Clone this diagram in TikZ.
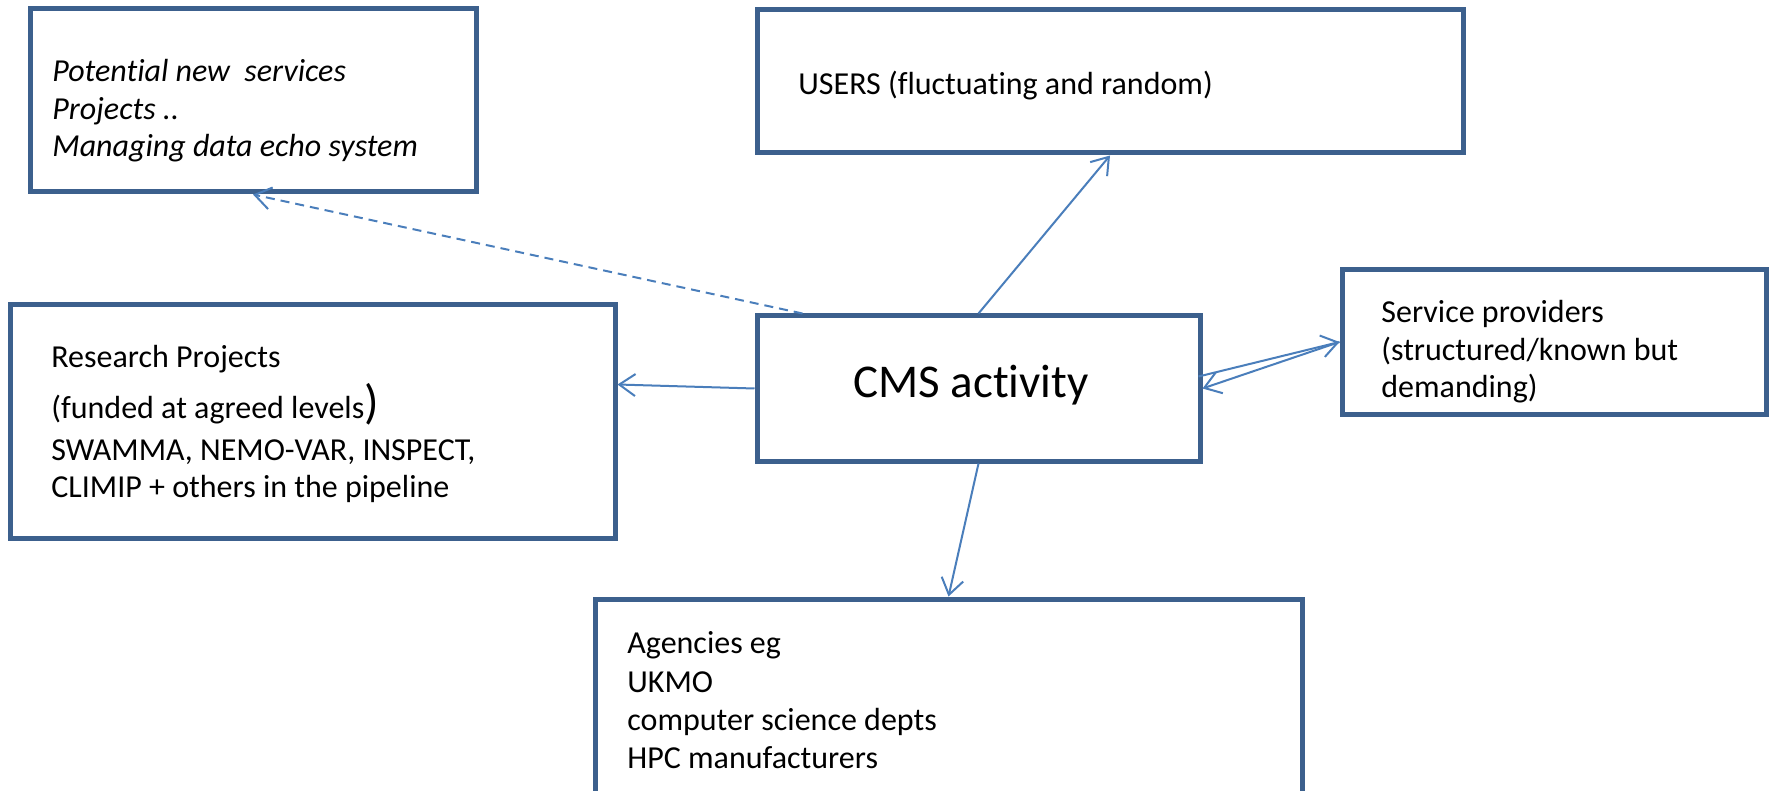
\documentclass[tikz,border=0pt]{standalone}
\usepackage{fontspec}
\setmainfont[Ligatures=NoCommon]{Carlito}
\usetikzlibrary{arrows.meta,calc}
\definecolor{boxblue}{RGB}{60,96,141}
\definecolor{arrowblue}{RGB}{74,126,187}
\begin{document}
\begin{tikzpicture}
[x=0.5pt,y=-0.5pt,
box/.style={rectangle,draw=boxblue,line width=2.5pt,inner sep=0pt},
line/.style={anchor=base west,inner sep=0pt,font=\fontsize{16}{19}\selectfont},
link/.style={draw=arrowblue,line width=1pt,-{Straight Barb[length=8pt,width=11pt]}}]
\useasboundingbox (0,0) rectangle (1773,791);
%boxes
	\node[box,minimum width=223pt,minimum height=91.5pt] (pot) at (253,100.5) {};
	\node[box,minimum width=353pt,minimum height=71.5pt] (users) at (1110,81.5) {};
	\node[box,minimum width=302.5pt,minimum height=116.5pt] (res) at (312.5,421.5) {};
	\node[box,minimum width=221.5pt,minimum height=72.5pt] (cms) at (978.5,388.5) {};
	\node[box,minimum width=212pt,minimum height=72pt] (svc) at (1554,342) {};
	\node[box,minimum width=353.5pt,minimum height=110.5pt] (agn) at (948.5,709.5) {};
%texts
\foreach \y / \t [count=\i] in {82/{Potential new\ \ services},119.5/{Projects ..},157/{Managing data echo system}}
	\node[line,font=\fontsize{16}{19}\selectfont\itshape] (pot\i) at (52,\y) {\t};
	\node[line] (users1) at (798,95) {USERS (fluctuating and random)};
\foreach \y / \t [count=\i] in {367/{Research Projects},418/{(funded at agreed levels{\fontsize{24}{24}\selectfont)}},460/{SWAMMA, NEMO-VAR, INSPECT,},497/{CLIMIP + others in the pipeline}}
	\node[line] (res\i) at (51,\y) {\t};
	\node[line,font=\fontsize{23.5}{28}\selectfont] (cms1) at (853,397) {CMS activity};
\foreach \y / \t [count=\i] in {322/{Service providers},360/{(structured/known but},397/{demanding)}}
	\node[line] (svc\i) at (1381,\y) {\t};
\foreach \y / \t [count=\i] in {653/{Agencies eg},692/{UKMO},730/{computer science depts},768/{HPC manufacturers}}
	\node[line] (agn\i) at (627,\y) {\t};
%links
	\draw[link,dash pattern=on 4.5pt off 3pt] ($(cms.north west)+(48,0)$) -- (pot.south);
	\draw[link] (cms.north) -- (users.south);
	\draw[link] (cms.west) -- ($(res.east)+(0,-37)$);
	\draw[link] (cms.south) -- (agn.north);
	\draw[link] ($(cms.east)+(-4,-12)$) -- (svc.west);
	\draw[link] (svc.west) -- (cms.east);
\end{tikzpicture}
\end{document}
